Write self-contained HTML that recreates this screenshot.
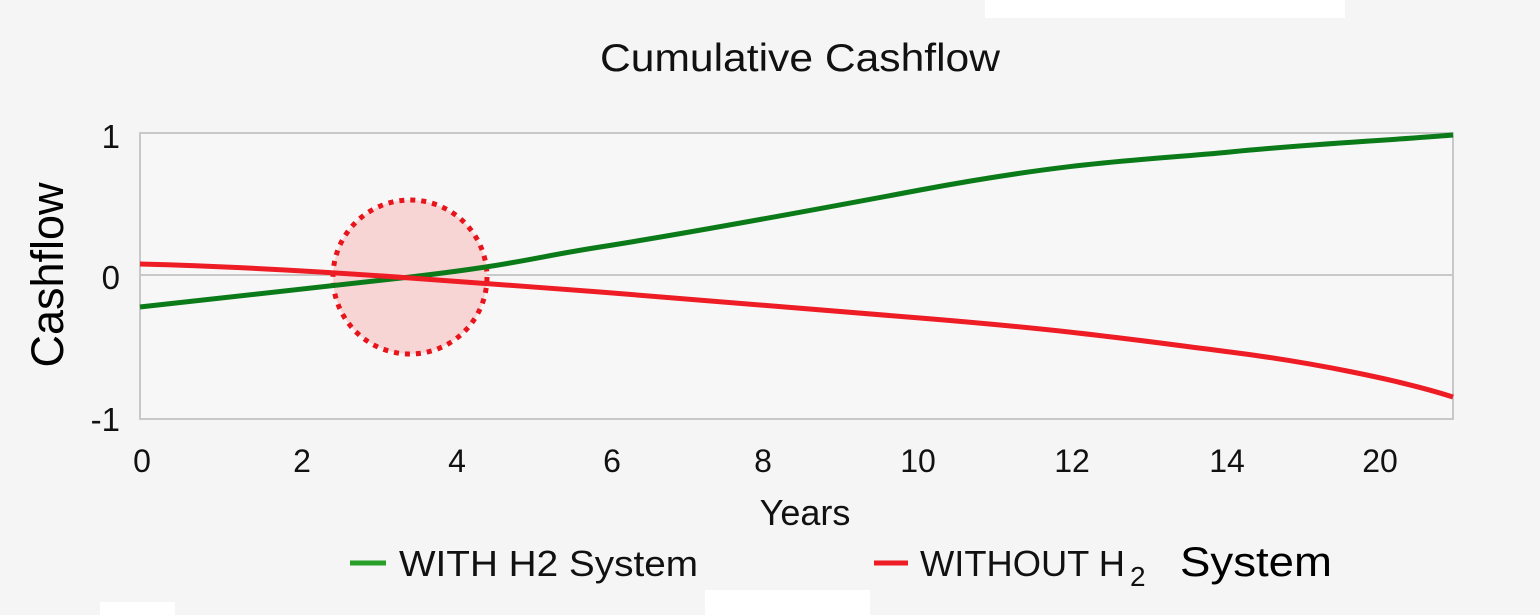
<!DOCTYPE html>
<html><head><meta charset="utf-8"><style>
html,body{margin:0;padding:0;background:#f5f5f5;}
svg{display:block;}
</style></head><body>
<svg width="1540" height="615" xmlns="http://www.w3.org/2000/svg" font-family="Liberation Sans, Arial, sans-serif">
<rect width="1540" height="615" fill="#f5f5f5"/>
<rect x="985" y="0" width="360" height="18" fill="#fff"/>
<rect x="100" y="602" width="75" height="13" fill="#fff"/>
<rect x="705" y="590" width="165" height="25" fill="#fff"/>
<text x="600" y="71" font-size="39" textLength="400" lengthAdjust="spacingAndGlyphs" fill="#111">Cumulative Cashflow</text>
<rect x="140" y="133" width="1313" height="286" fill="#f7f7f7" stroke="#c8c8c8" stroke-width="2"/>
<line x1="140" y1="275" x2="1453" y2="275" stroke="#c8c8c8" stroke-width="2"/>
<g font-size="33" fill="#111" text-anchor="end">
<text x="120" y="148">1</text><text x="120" y="289">0</text><text x="120" y="431">-1</text>
</g>
<g font-size="32" fill="#111" text-anchor="middle">
<text x="142" y="472">0</text><text x="302" y="472">2</text><text x="457" y="472">4</text><text x="612" y="472">6</text><text x="763" y="472">8</text><text x="918" y="472">10</text><text x="1072" y="472">12</text><text x="1227" y="472">14</text><text x="1380" y="472">20</text>
</g>
<text x="805" y="525" font-size="36" text-anchor="middle" fill="#111">Years</text>
<text transform="translate(63,275) rotate(-90)" font-size="45" text-anchor="middle" fill="#000">Cashflow</text>
<circle cx="410" cy="277" r="77" fill="#f7d5d5" stroke="#e8131b" stroke-width="5" stroke-dasharray="5 6"/>
<path d="M140,307 C220,298 300,290 410,277 S530,258 600,247 S760,220 920,190 S1150,160 1230,152 S1380,141 1453,135" fill="none" stroke="#0b7a18" stroke-width="5"/>
<path d="M140,264 C220,266 300,270 410,278 S520,286 600,292 S760,305 920,318 S1150,342 1230,352 S1400,380 1453,397" fill="none" stroke="#ee1c24" stroke-width="5"/>
<line x1="350" y1="563" x2="386" y2="563" stroke="#28a028" stroke-width="5"/>
<text x="399" y="576" font-size="36" textLength="299" lengthAdjust="spacingAndGlyphs" fill="#111">WITH H2  System</text>
<line x1="874" y1="563" x2="908" y2="563" stroke="#ee1c24" stroke-width="5"/>
<text x="920" y="576" font-size="36" textLength="205" lengthAdjust="spacingAndGlyphs" fill="#111">WITHOUT H</text>
<text x="1130" y="586" font-size="28" fill="#111">2</text>
<text x="1180" y="576" font-size="42" textLength="152" lengthAdjust="spacingAndGlyphs" fill="#000">System</text>
</svg>
</body></html>
